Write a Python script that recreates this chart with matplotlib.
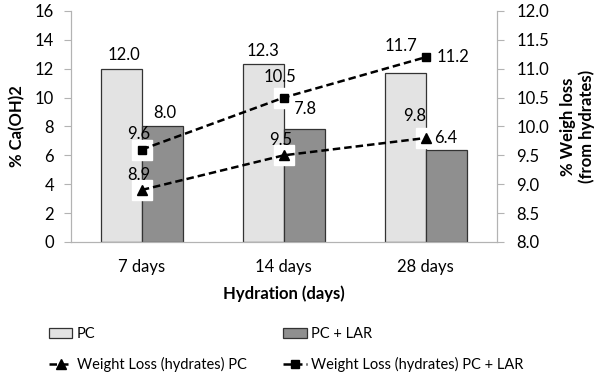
import matplotlib.pyplot as plt
import numpy as np

plt.rcParams['font.family'] = ['Lato', 'DejaVu Sans']

# Data
categories = ['7 days', '14 days', '28 days']
pc_caoh2 = [12.0, 12.3, 11.7]
pclar_caoh2 = [8.0, 7.8, 6.4]
wl_pc = [8.9, 9.5, 9.8]
wl_pclar = [9.6, 10.5, 11.2]

# label offsets in points (dx, dy) - placed like the original excel chart
pc_offsets = [(2, 4), (0, 4), (-3, 14)]
pclar_offsets = [(2, 4), (0, 9), None]
wl_pc_offsets = [(-2, 11), (-2, 11), (-8, 16)]
wl_pclar_offsets = [(-2, 11), (-3, 15), None]

grey = '#b3b3b3'
fs = 12

fig = plt.figure(figsize=(6, 3.78), dpi=100)
ax = fig.add_axes([0.118, 0.36, 0.71, 0.611])
ax2 = ax.twinx()

x = np.arange(len(categories)) + 0.5
w = 0.29
b1 = ax.bar(x - w / 2, pc_caoh2, w, color='#e3e3e3', edgecolor='#333333', linewidth=0.9, label='PC')
b2 = ax.bar(x + w / 2, pclar_caoh2, w, color='#8f8f8f', edgecolor='#333333', linewidth=0.9, label='PC + LAR')

ax.set_xlim(0, len(categories))
ax.set_ylim(0, 16)
ax.set_yticks(range(0, 17, 2))
ax.set_xticks(x)
ax.set_xticklabels(categories, fontsize=fs)
ax.tick_params(axis='x', length=0, pad=12)
ax.tick_params(axis='y', labelsize=fs, color=grey, length=5, pad=7)
ax.set_ylabel('% Ca(OH)2', fontsize=fs, fontweight='bold', labelpad=7)
ax.set_xlabel('Hydration (days)', fontsize=fs, fontweight='bold', labelpad=8)

for a in (ax, ax2):
    for s in ['left', 'right', 'bottom']:
        a.spines[s].set_color(grey)
    a.spines['top'].set_visible(False)

# lines on secondary axis, white square behind each marker
ax2.plot(x, wl_pc, linestyle='none', marker='s', markersize=14, color='white', zorder=3)
ax2.plot(x, wl_pclar, linestyle='none', marker='s', markersize=14, color='white', zorder=3)
l1, = ax2.plot(x, wl_pc, linestyle=(0, (3, 1.6)), color='black', linewidth=1.8,
               marker='^', markersize=7, label='Weight Loss (hydrates) PC', zorder=4)
l2, = ax2.plot(x, wl_pclar, linestyle=(0, (3, 1.6)), color='black', linewidth=1.8,
               marker='s', markersize=6, label='Weight Loss (hydrates) PC + LAR', zorder=4)
ax2.set_ylim(8, 12)
ax2.set_yticks(np.arange(8, 12.01, 0.5))
ax2.set_yticklabels([f'{v:.1f}' for v in np.arange(8, 12.01, 0.5)])
ax2.tick_params(axis='y', labelsize=fs, color=grey, length=5, pad=9)
ax2.set_ylabel('% Weigh loss\n(from hydrates)', fontsize=fs, fontweight='bold', labelpad=8)

# data labels
for i in range(len(categories)):
    ax.annotate(f'{pc_caoh2[i]:.1f}', (x[i] - w / 2, pc_caoh2[i]), xytext=pc_offsets[i],
                textcoords='offset points', ha='center', va='bottom', fontsize=fs)
    ax2.annotate(f'{wl_pc[i]:.1f}', (x[i], wl_pc[i]), xytext=wl_pc_offsets[i],
                 textcoords='offset points', ha='center', va='center', fontsize=fs, zorder=5)
    if pclar_offsets[i] is not None:
        ax.annotate(f'{pclar_caoh2[i]:.1f}', (x[i] + w / 2, pclar_caoh2[i]), xytext=pclar_offsets[i],
                    textcoords='offset points', ha='center', va='bottom', fontsize=fs)
    if wl_pclar_offsets[i] is not None:
        ax2.annotate(f'{wl_pclar[i]:.1f}', (x[i], wl_pclar[i]), xytext=wl_pclar_offsets[i],
                     textcoords='offset points', ha='center', va='center', fontsize=fs, zorder=5)

# the last PC + LAR labels sit to the right of the markers
ax2.annotate(f'{pclar_caoh2[-1]:.1f}', (x[-1], wl_pc[-1]), xytext=(6, 0),
             textcoords='offset points', ha='left', va='center', fontsize=fs, zorder=5)
ax2.annotate(f'{wl_pclar[-1]:.1f}', (x[-1], wl_pclar[-1]), xytext=(8, 0),
             textcoords='offset points', ha='left', va='center', fontsize=fs, zorder=5)

fig.legend([b1, l1, b2, l2],
           ['PC', 'Weight Loss (hydrates) PC', 'PC + LAR', 'Weight Loss (hydrates) PC + LAR'],
           ncol=2, loc='lower left', bbox_to_anchor=(0.06, -0.02), frameon=False, fontsize=10.5,
           handlelength=1.6, handletextpad=0.3, columnspacing=2.5, labelspacing=1.1)

fig.savefig('out.png', dpi=100)
